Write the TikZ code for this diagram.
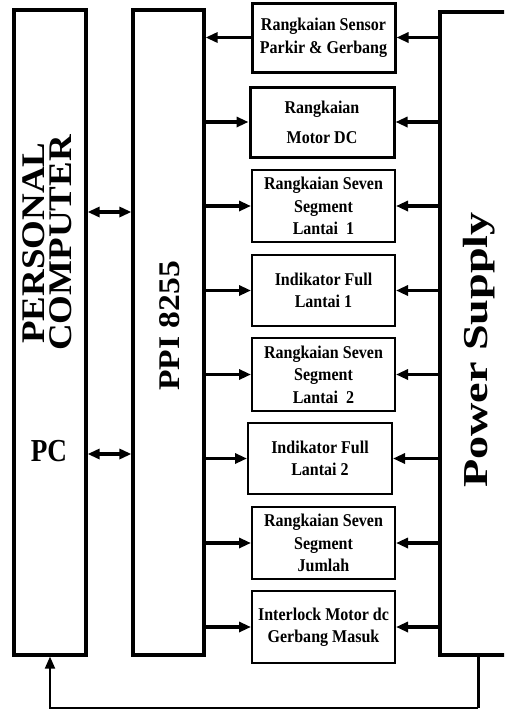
\documentclass[tikz,border=0pt]{standalone}
\usepackage{fontspec}
\setmainfont{Liberation Serif}
\newfontfamily\condfont[FakeStretch=0.89]{Liberation Serif}
\newfontfamily\pcfont[FakeStretch=0.85]{Liberation Serif}
\newfontfamily\widePC[FakeStretch=1.12]{Liberation Serif}
\newfontfamily\widePS[FakeStretch=1.32]{Liberation Serif}
\newfontfamily\widePPI[FakeStretch=1.12]{Liberation Serif}
\usetikzlibrary{arrows.meta}
\begin{document}
\begin{tikzpicture}[x=1pt,y=-1pt,
  bigbox/.style={draw, line width=3.2pt, inner sep=0pt},
  boxtext/.style={inner sep=0pt, align=center, font=\condfont\bfseries\fontsize{18}{22.5}\selectfont},
  heavybox/.style={boxtext, draw, line width=3pt},
  lightbox/.style={boxtext, draw, line width=2pt},
  arr/.style={line width=3.2pt, -{Triangle[length=12pt,width=10pt]}},
  darr/.style={line width=3.2pt, {Triangle[length=12pt,width=10pt]}-{Triangle[length=12pt,width=10pt]}}]
\clip (0,0) rectangle (504,710);
% main blocks
\node[bigbox, minimum width=72pt, minimum height=645pt] (pc) at (50,332.5) {};
\node[bigbox, minimum width=71pt, minimum height=645pt] (ppi) at (168.5,332.5) {};
\node[bigbox, minimum width=90pt, minimum height=643pt] (ps) at (485,333.5) {};
% labels of main blocks
\node[rotate=90, align=center, inner sep=0pt,
      font=\widePC\bfseries\fontsize{33}{27}\selectfont] (pclabel) at (47.5,243) {PERSONAL\\COMPUTER};
\node[inner sep=0pt, font=\pcfont\bfseries\fontsize{32}{34}\selectfont] (pcshort) at (49,451) {PC};
\node[rotate=90, anchor=base, inner sep=0pt,
      font=\widePPI\bfseries\fontsize{30}{32}\selectfont] (ppilabel) at (179,326) {PPI 8255};
\node[rotate=90, anchor=base, inner sep=0pt,
      font=\widePS\bfseries\fontsize{35}{37}\selectfont] (pslabel) at (487,350) {Power Supply};
% circuit blocks
\node[heavybox, minimum width=143pt, minimum height=69pt] (b1) at (323.5,37.5) {Rangkaian Sensor\\Parkir \& Gerbang};
\node[heavybox, minimum width=144pt, minimum height=70pt,
      font=\condfont\bfseries\fontsize{18}{30}\selectfont] (b2) at (322,122) {Rangkaian\\Motor DC};
\node[lightbox, minimum width=143pt, minimum height=72pt] (b3) at (323.5,206) {Rangkaian Seven\\Segment\\Lantai\ \ 1};
\node[lightbox, minimum width=143pt, minimum height=71pt] (b4) at (323.5,290.5) {Indikator Full\\Lantai 1};
\node[lightbox, minimum width=143pt, minimum height=73pt] (b5) at (323.5,374.5) {Rangkaian Seven\\Segment\\Lantai\ \ 2};
\node[lightbox, minimum width=144pt, minimum height=71pt] (b6) at (320,458.5) {Indikator Full\\Lantai 2};
\node[lightbox, minimum width=143pt, minimum height=72pt] (b7) at (323.5,543) {Rangkaian Seven\\Segment\\Jumlah};
\node[lightbox, minimum width=143pt, minimum height=72pt] (b8) at (323.5,627) {Interlock Motor dc\\Gerbang Masuk};
% PC <-> PPI
\coordinate (d1) at (0,212);
\coordinate (d2) at (0,454);
\draw[darr] (pc.east |- d1) -- (ppi.west |- d1);
\draw[darr] (pc.east |- d2) -- (ppi.west |- d2);
% PPI <-> blocks
\draw[arr] (b1.west) -- (ppi.east |- b1.west);
\foreach \b in {b2,b3,b4,b5,b6,b7,b8}
  \draw[arr] (ppi.east |- \b.west) -- (\b.west);
% power supply -> blocks
\foreach \b in {b1,b2,b3,b4,b5,b6,b7,b8}
  \draw[arr] (ps.west |- \b.east) -- (\b.east);
% power supply -> PC feedback
\coordinate (fb) at (478,708);
\draw[line width=3pt] (fb |- ps.south) -- (fb);
\draw[line width=2pt, -{Triangle[length=12pt,width=10pt]}] (fb) -| (pc.south);
\end{tikzpicture}
\end{document}
